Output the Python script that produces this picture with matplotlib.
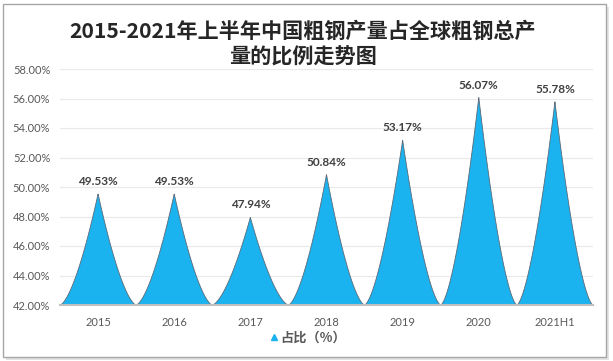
import numpy as np
import matplotlib
matplotlib.use("Agg")
import matplotlib.pyplot as plt
from matplotlib.lines import Line2D
from matplotlib.patches import Rectangle

plt.rcParams['font.family'] = ['Lato', 'Noto Sans CJK SC', 'DejaVu Sans']

categories = ["2015", "2016", "2017", "2018", "2019", "2020", "2021H1"]
values = [49.53, 49.53, 47.94, 50.84, 53.17, 56.07, 55.78]
yticks = [42, 44, 46, 48, 50, 52, 54, 56, 58]
title = "2015-2021年上半年中国粗钢产量占全球粗钢总产\n量的比例走势图"
legend_label = "占比（%）"

W, H = 613, 361
fig = plt.figure(figsize=(W / 100, H / 100), dpi=100)
fig.patch.set_facecolor("white")

# outer frame with a light shadow
fig.add_artist(Rectangle((6 / W, 1 - 360 / H), 603 / W, 353 / H, transform=fig.transFigure,
                         facecolor="#e4e4e4", edgecolor="none", zorder=-3))
fig.add_artist(Rectangle((3 / W, 1 - 357 / H), 603 / W, 353 / H, transform=fig.transFigure,
                         facecolor="white", edgecolor="#a6a6a6", linewidth=1.0, zorder=-2))

left, right, top, bottom = 60, 593, 69, 305
ax = fig.add_axes([left / W, 1 - bottom / H, (right - left) / W, (bottom - top) / H])
ax.set_facecolor("none")
ax.set_zorder(1)

ymin = yticks[0]
p = 1.55
t = np.linspace(-1, 1, 401)
for i, v in enumerate(values):
    xs = i + 0.5 * t
    ys = ymin + (v - ymin) * (1 - np.abs(t)) ** p
    ax.fill(xs, ys, facecolor="#1bb3ef",
            edgecolor="#5a6a78", linewidth=0.6, zorder=3)
    ax.annotate(f"{v:.2f}%", (i, v), xytext=(0, 5), textcoords="offset points",
                ha="center", va="bottom", fontsize=8.5, color="#404040",
                fontweight="bold", zorder=5)

ax.set_xlim(-0.5, len(categories) - 0.5)
ax.set_ylim(yticks[0], yticks[-1])
ax.set_yticks(yticks)
ax.set_yticklabels([f"{y:.2f}%" for y in yticks], fontsize=8, color="#595959")
ax.set_xticks(range(len(categories)))
ax.set_xticklabels(categories, fontsize=8, color="#595959")
ax.tick_params(axis="both", length=0)
ax.tick_params(axis="x", pad=9)
ax.tick_params(axis="y", pad=7)
ax.set_axisbelow(True)
ax.grid(axis="y", color="#e9e9e9", linewidth=0.8, zorder=0)
for s in ["top", "right", "left"]:
    ax.spines[s].set_visible(False)
ax.spines["bottom"].set_color("#bfbfbf")
ax.spines["bottom"].set_linewidth(1.5)
ax.spines["bottom"].set_zorder(4)

fig.text(0.4935, 1 - 44 / H, title, ha="center", va="center", fontsize=15.2,
         fontweight="bold", color="#262626", linespacing=1.3,
         family=["Noto Sans CJK SC", "DejaVu Sans"])

handle = Line2D([], [], marker="^", linestyle="none", color="#1bb3ef", markersize=4)
leg = fig.legend([handle], [legend_label], loc="center", bbox_to_anchor=(0.5, 1 - 338 / H),
                 frameon=False, handletextpad=0.0, handlelength=1.0,
                 prop={"family": ["Noto Sans CJK SC"], "size": 9.5, "weight": "bold"})
for txt in leg.get_texts():
    txt.set_color("#595959")

fig.savefig("out.png", dpi=100)
